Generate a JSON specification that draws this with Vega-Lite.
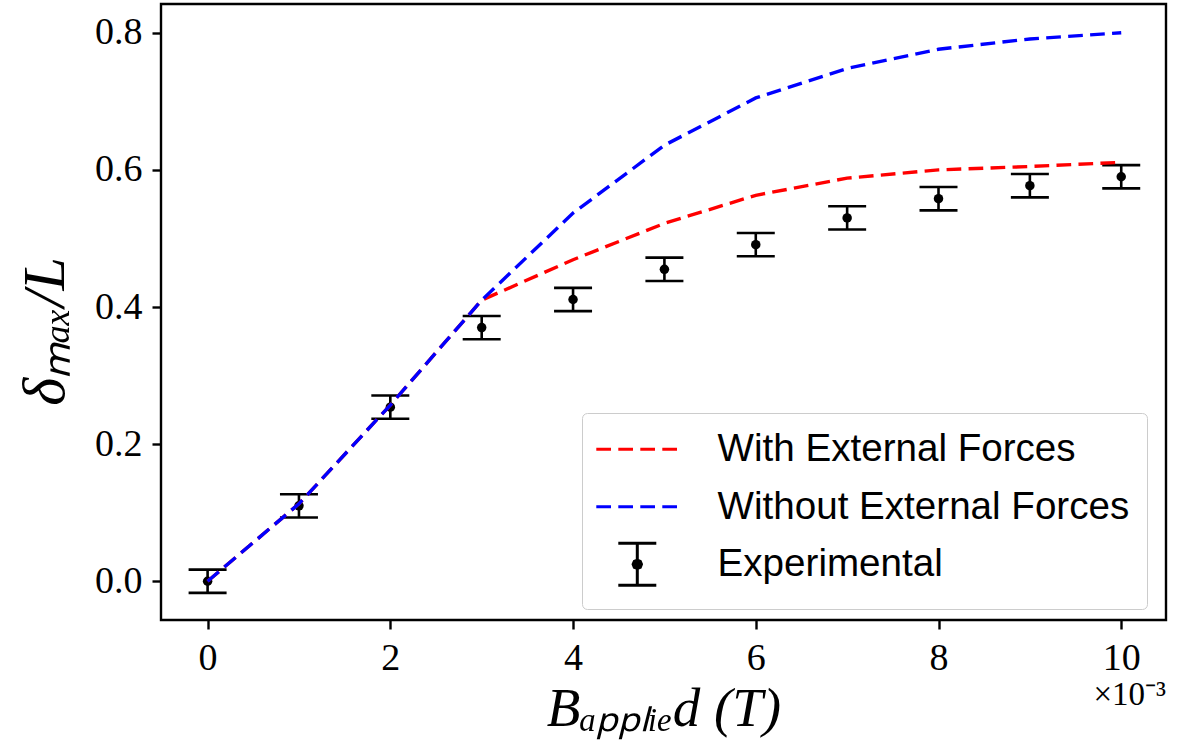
{
  "$schema": "https://vega.github.io/schema/vega-lite/v6.json",
  "autosize": "none",
  "width": 1005,
  "height": 616,
  "padding": {"left": 161, "top": 4, "right": 11, "bottom": 131},
  "background": "white",
  "datasets": {
    "exp": [
      {"B": 0, "delta": 0.000, "err": 0.017, "series": "Experimental"},
      {"B": 1, "delta": 0.110, "err": 0.017, "series": "Experimental"},
      {"B": 2, "delta": 0.254, "err": 0.017, "series": "Experimental"},
      {"B": 3, "delta": 0.370, "err": 0.017, "series": "Experimental"},
      {"B": 4, "delta": 0.411, "err": 0.017, "series": "Experimental"},
      {"B": 5, "delta": 0.455, "err": 0.017, "series": "Experimental"},
      {"B": 6, "delta": 0.491, "err": 0.017, "series": "Experimental"},
      {"B": 7, "delta": 0.530, "err": 0.017, "series": "Experimental"},
      {"B": 8, "delta": 0.558, "err": 0.017, "series": "Experimental"},
      {"B": 9, "delta": 0.577, "err": 0.017, "series": "Experimental"},
      {"B": 10, "delta": 0.590, "err": 0.017, "series": "Experimental"}
    ],
    "lines": [
      {"B": 0, "delta": 0.000, "series": "With External Forces"},
      {"B": 1, "delta": 0.113, "series": "With External Forces"},
      {"B": 2, "delta": 0.257, "series": "With External Forces"},
      {"B": 3, "delta": 0.410, "series": "With External Forces"},
      {"B": 4, "delta": 0.469, "series": "With External Forces"},
      {"B": 5, "delta": 0.522, "series": "With External Forces"},
      {"B": 6, "delta": 0.563, "series": "With External Forces"},
      {"B": 7, "delta": 0.588, "series": "With External Forces"},
      {"B": 8, "delta": 0.600, "series": "With External Forces"},
      {"B": 9, "delta": 0.605, "series": "With External Forces"},
      {"B": 10, "delta": 0.611, "series": "With External Forces"},
      {"B": 0, "delta": 0.000, "series": "Without External Forces"},
      {"B": 1, "delta": 0.113, "series": "Without External Forces"},
      {"B": 2, "delta": 0.257, "series": "Without External Forces"},
      {"B": 3, "delta": 0.410, "series": "Without External Forces"},
      {"B": 4, "delta": 0.537, "series": "Without External Forces"},
      {"B": 5, "delta": 0.636, "series": "Without External Forces"},
      {"B": 6, "delta": 0.705, "series": "Without External Forces"},
      {"B": 7, "delta": 0.748, "series": "Without External Forces"},
      {"B": 8, "delta": 0.776, "series": "Without External Forces"},
      {"B": 9, "delta": 0.791, "series": "Without External Forces"},
      {"B": 10, "delta": 0.800, "series": "Without External Forces"}
    ],
    "note": [{"label": "×10⁻³"}]
  },
  "layer": [
    {
      "data": {"name": "exp"},
      "mark": {"type": "errorbar", "ticks": {"opacity": 1, "color": "black"}, "rule": {"opacity": 1, "color": "black"}, "size": 38, "thickness": 2.6, "color": "black", "opacity": 1},
      "encoding": {
        "x": {"field": "B", "type": "quantitative"},
        "y": {"field": "delta", "type": "quantitative"},
        "yError": {"field": "err"}
      }
    },
    {
      "data": {"name": "exp"},
      "mark": {"type": "point", "filled": true, "size": 90, "opacity": 1},
      "encoding": {
        "x": {"field": "B", "type": "quantitative"},
        "y": {"field": "delta", "type": "quantitative"},
        "color": {"field": "series", "type": "nominal"}
      }
    },
    {
      "data": {"name": "lines"},
      "mark": {"type": "line", "strokeWidth": 3.4, "strokeDash": [14.7, 7.3]},
      "encoding": {
        "x": {"field": "B", "type": "quantitative"},
        "y": {"field": "delta", "type": "quantitative"},
        "color": {"field": "series", "type": "nominal"}
      }
    },
    {
      "data": {"name": "note"},
      "mark": {"type": "text", "align": "right", "baseline": "middle", "font": "Liberation Serif", "fontSize": 33, "color": "black"},
      "encoding": {
        "x": {"datum": 10.49, "type": "quantitative"},
        "y": {"datum": -0.166, "type": "quantitative"},
        "text": {"field": "label"}
      }
    }
  ],
  "resolve": {"scale": {"color": "shared"}},
  "encoding": {
    "x": {
      "type": "quantitative",
      "scale": {"domain": [-0.51, 10.49], "nice": false, "zero": false},
      "axis": {"values": [0, 2, 4, 6, 8, 10], "format": "d", "title": "Bₐₚₚₗᵢₑd (T)"}
    },
    "y": {
      "type": "quantitative",
      "scale": {"domain": [-0.0565, 0.842], "nice": false, "zero": false},
      "axis": {"values": [0, 0.2, 0.4, 0.6, 0.8], "format": ".1f", "title": "δₘₐₓ/L", "titleY": 327, "titleFontSize": 60}
    },
    "color": {
      "type": "nominal",
      "scale": {"domain": ["With External Forces", "Without External Forces", "Experimental"], "range": ["#ff0000", "#0000ff", "#000000"]},
      "legend": {
        "title": null,
        "orient": "none",
        "legendX": 421,
        "legendY": 409,
        "direction": "vertical",
        "labelFont": "Liberation Sans",
        "labelFontSize": 38.6,
        "labelColor": "black",
        "labelLimit": 1000,
        "symbolSize": 400,
        "symbolStrokeWidth": 3,
        "symbolOffset": 19,
        "labelOffset": 61,
        "padding": 17,
        "rowPadding": 2.5,
        "strokeColor": "#cccccc",
        "fillColor": "white",
        "cornerRadius": 5,
        "encode": {
          "symbols": {
            "update": {
              "shape": {"signal": "datum.value == 'Experimental' ? 'M-1.9,-2.1H1.9M0,-2.1V2.1M-1.9,2.1H1.9M0.42,0L0.3,0.3L0,0.42L-0.3,0.3L-0.42,0L-0.3,-0.3L0,-0.42L0.3,-0.3Z' : 'M0,-2.1M0,2.1M-4.1,0H4.1'"},
              "strokeDash": {"signal": "datum.value == 'Experimental' ? [] : [14.7, 7.3]"},
              "fill": {"signal": "datum.value == 'Experimental' ? 'black' : 'transparent'"},
              "fillOpacity": {"value": 1},
              "opacity": {"value": 1}
            }
          }
        }
      }
    }
  },
  "config": {
    "view": {"stroke": "black", "strokeWidth": 2.4},
    "axis": {
      "grid": false,
      "domain": false,
      "ticks": true,
      "tickColor": "black",
      "tickWidth": 2.4,
      "tickSize": 9,
      "labelFont": "Liberation Serif",
      "labelFontSize": 38,
      "labelColor": "black",
      "labelPadding": 10,
      "titleFont": "Liberation Serif",
      "titleFontStyle": "italic",
      "titleFontWeight": "normal",
      "titleFontSize": 55,
      "titleColor": "black"
    },
    "axisX": {"titlePadding": 5},
    "axisY": {"titlePadding": 18}
  }
}
